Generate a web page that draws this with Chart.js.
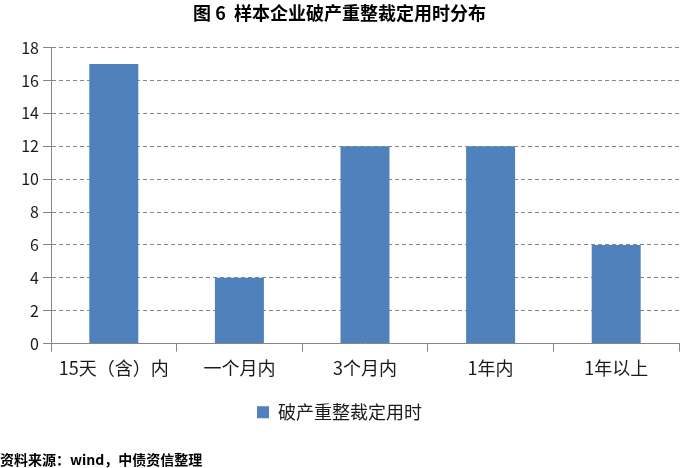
<!DOCTYPE html>
<html lang="zh">
<head>
<meta charset="UTF-8" />
<title>图6 样本企业破产重整裁定用时分布</title>
<script src="https://cdn.jsdelivr.net/npm/chart.js"></script>
<style>
  html, body { margin: 0; padding: 0; background: #ffffff; }
  .wrap { width: 700px; height: 468px; }
</style>
</head>
<body>
<div class="wrap"><canvas id="chart" width="700" height="468"></canvas></div>
<script>
  // data
  const categories = ['15天（含）内', '一个月内', '3个月内', '1年内', '1年以上'];
  const counts = [17, 4, 12, 12, 6];
  const seriesName = '破产重整裁定用时';
  const yTicks = [0, 2, 4, 6, 8, 10, 12, 14, 16, 18];

  const font = "'Noto Sans CJK SC', 'Liberation Sans', sans-serif";
  Chart.defaults.font.family = font;
  Chart.defaults.color = '#1a1a1a';

  new Chart(document.getElementById('chart').getContext('2d'), {
    type: 'bar',
    data: {
      labels: categories,
      datasets: [{
        label: seriesName,
        data: counts,
        backgroundColor: '#4f81bd',
        barPercentage: 0.39,
        categoryPercentage: 1
      }]
    },
    options: {
      responsive: false,
      animation: false,
      layout: { padding: { left: 0, right: 21, top: 0, bottom: 0 } },
      scales: {
        x: {
          grid: { drawOnChartArea: false, tickLength: 8, color: '#868686' },
          border: { color: '#868686' },
          ticks: { font: { size: 18 }, padding: 6 }
        },
        y: {
          min: 0,
          max: 18,
          afterBuildTicks: axis => { axis.ticks = yTicks.map(v => ({ value: v })); },
          afterFit: axis => { axis.width = 51; },
          grid: { color: '#868686', tickLength: 8, tickBorderDash: [] },
          border: { color: '#868686', dash: [4, 3] },
          ticks: { font: { size: 16 }, padding: 4 }
        }
      },
      plugins: {
        title: {
          display: true,
          text: '图 6  样本企业破产重整裁定用时分布',
          font: { size: 18, weight: 'bold' },
          color: '#000',
          padding: { top: 2, bottom: 24 }
        },
        legend: {
          position: 'bottom',
          labels: { boxWidth: 12, boxHeight: 12, font: { size: 18 }, padding: 18 }
        },
        subtitle: {
          display: true,
          position: 'bottom',
          align: 'start',
          text: '资料来源：wind，中债资信整理',
          font: { size: 14, weight: 'bold' },
          color: '#000',
          padding: { top: 20, bottom: 0 }
        },
        tooltip: { enabled: false }
      }
    }
  });
</script>
</body>
</html>
